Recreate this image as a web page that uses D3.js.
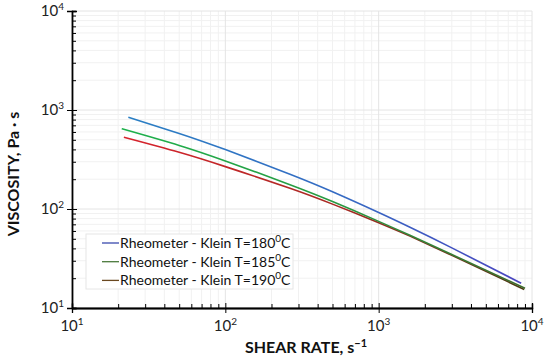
<!DOCTYPE html>
<html><head><meta charset="utf-8">
<script src="https://cdn.jsdelivr.net/npm/d3@7"></script>
<style>body{margin:0;background:#fff}svg{display:block}text{font-family:Lato,"Open Sans",sans-serif}</style>
</head><body><svg id="c" width="550" height="361"></svg>
<script>
const seriesNames = ["Rheometer - Klein T=180", "Rheometer - Klein T=185", "Rheometer - Klein T=190"];
const rate180 = [23.3, 50, 100, 264, 500, 1000, 1600, 3000, 8500];
const visc180 = [843, 580, 398, 224, 149, 92, 65.3, 40.5, 17.8];
const rate185 = [21.1, 50, 100, 264, 500, 1000, 1600, 3000, 9000];
const visc185 = [647, 439, 306, 176, 119, 75, 54.2, 34.7, 15.8];
const rate190 = [21.8, 50, 100, 264, 500, 1000, 1600, 3000, 8900];
const visc190 = [530, 374, 268, 162, 112, 72.8, 53.2, 34.0, 15.4];
const xMajor = [10, 100, 1000, 10000];
const yMajor = [10, 100, 1000, 10000];
const tickExp = ["1", "2", "3", "4"];

const svg = d3.select("#c");
const L = 72, R = 532, T = 11, B = 308;
const x = d3.scaleLog().domain([10, 10000]).range([L, R]);
const y = d3.scaleLog().domain([10, 10000]).range([B, T]);

const minors = [];
for (let d = 10; d < 10000; d *= 10) for (let k = 2; k <= 9; k++) minors.push(d * k);

// grid
const g = svg.append("g");
g.selectAll(".gxm").data(minors).join("line").attr("x1", d => x(d)).attr("x2", d => x(d)).attr("y1", T).attr("y2", B).attr("stroke", "#f1f1f1");
g.selectAll(".gym").data(minors).join("line").attr("y1", d => y(d)).attr("y2", d => y(d)).attr("x1", L).attr("x2", R).attr("stroke", "#f1f1f1");
g.selectAll(".gxM").data(xMajor).join("line").attr("x1", d => x(d)).attr("x2", d => x(d)).attr("y1", T).attr("y2", B).attr("stroke", "#e4e4e4");
g.selectAll(".gyM").data(yMajor).join("line").attr("y1", d => y(d)).attr("y2", d => y(d)).attr("x1", L).attr("x2", R).attr("stroke", "#e4e4e4");

// gradients
const defs = svg.append("defs");
const grads = [["#2a7fc4", "#4a44c0"], ["#1db14c", "#3e6a2c"], ["#d8222c", "#4a3a12"]];
const rates = [rate180, rate185, rate190];
const viscs = [visc180, visc185, visc190];
grads.forEach((c, i) => {
  const lg = defs.append("linearGradient").attr("id", "g" + i).attr("gradientUnits", "userSpaceOnUse")
    .attr("x1", x(rates[i][0])).attr("x2", x(rates[i][rates[i].length - 1])).attr("y1", 0).attr("y2", 0);
  lg.append("stop").attr("offset", "0").attr("stop-color", c[0]);
  lg.append("stop").attr("offset", "0.55").attr("stop-color", d3.interpolateRgb(c[0], c[1])(0.35));
  lg.append("stop").attr("offset", "1").attr("stop-color", c[1]);
});
const line = d3.line().x(d => x(d[0])).y(d => y(d[1])).curve(d3.curveNatural);
[2, 1, 0].forEach(i => {
  svg.append("path").datum(rates[i].map((r, j) => [r, viscs[i][j]]))
    .attr("d", line).attr("fill", "none").attr("stroke", `url(#g${i})`).attr("stroke-width", 1.6);
});

// axes
const ax = svg.append("g").attr("transform", `translate(0,${B})`);
ax.call(d3.axisBottom(x).tickValues(minors).tickSize(-4).tickFormat(""));
ax.append("g").call(d3.axisBottom(x).tickValues(xMajor).tickSize(5).tickFormat(""));
ax.append("g").call(d3.axisBottom(x).tickValues(xMajor).tickSize(-5).tickFormat(""));
const ay = svg.append("g").attr("transform", `translate(${L},0)`);
ay.call(d3.axisLeft(y).tickValues(minors).tickSize(-4).tickFormat(""));
ay.append("g").call(d3.axisLeft(y).tickValues(yMajor).tickSize(5).tickFormat(""));
ay.append("g").call(d3.axisLeft(y).tickValues(yMajor).tickSize(-5).tickFormat(""));
svg.selectAll(".domain").attr("stroke", "#000").attr("stroke-width", 1.3);
svg.selectAll(".tick line").attr("stroke", "#000");

// tick labels
xMajor.forEach((v, i) => {
  const t = svg.append("text").attr("x", x(v)).attr("y", 331).attr("text-anchor", "middle").attr("font-size", 15).attr("fill", "#222");
  t.append("tspan").text("10");
  t.append("tspan").attr("dy", -6).attr("font-size", 10).text(tickExp[i]);
});
yMajor.forEach((v, i) => {
  const t = svg.append("text").attr("x", 64).attr("y", y(v) + 5).attr("text-anchor", "end").attr("font-size", 15).attr("fill", "#222");
  t.append("tspan").text("10");
  t.append("tspan").attr("dy", -6).attr("font-size", 10).text(tickExp[i]);
});

// axis titles
const xt = svg.append("text").attr("x", 306).attr("y", 353).attr("text-anchor", "middle").attr("font-size", 16).attr("font-weight", "bold").attr("fill", "#111");
xt.append("tspan").text("SHEAR RATE, s");
xt.append("tspan").attr("dy", -6).attr("font-size", 11).text("−1");
svg.append("text").attr("transform", "translate(19,174) rotate(-90)").attr("text-anchor", "middle").attr("font-size", 16).attr("font-weight", "bold").attr("fill", "#111").text("VISCOSITY, Pa · s");

// legend
const lgc = ["#3a4aae", "#4a7a3c", "#6a4820"];
svg.append("rect").attr("x", 86).attr("y", 234).attr("width", 207).attr("height", 55).attr("fill", "#fff").attr("stroke", "#e6e6e6");
seriesNames.forEach((n, i) => {
  const yy = 243 + i * 18.7;
  svg.append("line").attr("x1", 102).attr("x2", 119).attr("y1", yy).attr("y2", yy).attr("stroke", lgc[i]).attr("stroke-width", 1.3);
  const t = svg.append("text").attr("x", 120).attr("y", yy + 5).attr("font-size", 14).attr("fill", "#111");
  t.append("tspan").text(n);
  t.append("tspan").attr("dy", -6).attr("font-size", 10).text("0");
  t.append("tspan").attr("dy", 6).text("C");
});
</script></body></html>
